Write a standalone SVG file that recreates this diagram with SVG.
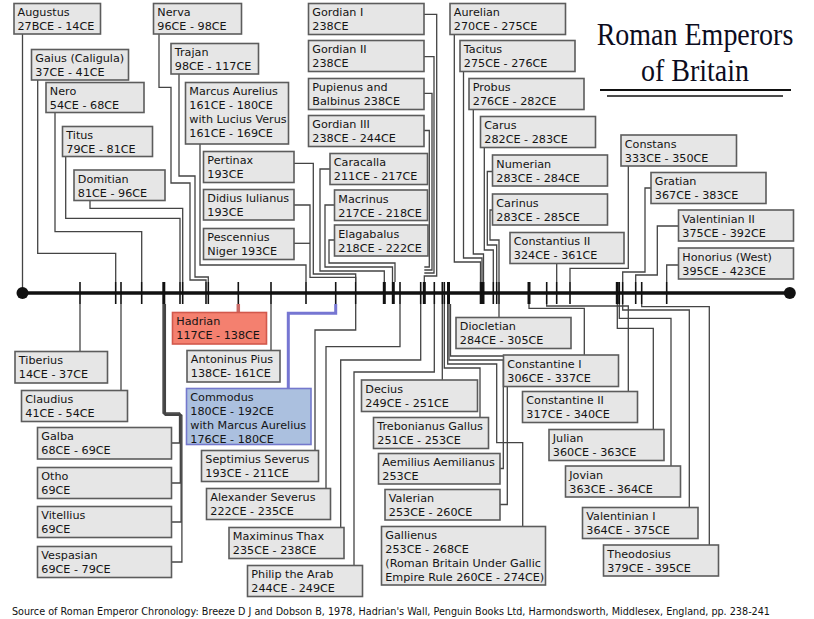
<svg xmlns="http://www.w3.org/2000/svg" width="814" height="619" viewBox="0 0 814 619">
<style>
.b{fill:#e6e6e6;stroke:#5c5c5c;stroke-width:1.6}
.t{font-family:"DejaVu Sans","Liberation Sans",sans-serif;font-size:11.2px;fill:#141414}
.c{fill:none;stroke:#444;stroke-width:1.3}
.k{stroke:#111;stroke-width:1.6}
.kk{stroke:#111;stroke-width:3}
.ttl{font-family:"Liberation Serif",serif;fill:#0c0c1e;font-size:32px}
</style>
<rect width="814" height="619" fill="#fff"/>
<g id="title">
<text class="ttl" transform="translate(695,45) scale(0.875,1)" text-anchor="middle">Roman Emperors</text>
<text class="ttl" transform="translate(695,81) scale(0.875,1)" text-anchor="middle">of Britain</text>
<line x1="600" y1="90" x2="791" y2="90" stroke="#111" stroke-width="2"/>
<line x1="607" y1="96" x2="783" y2="96" stroke="#111" stroke-width="1.3"/>
</g>
<g id="connectors">
<path class="c" d="M22.5,34V293"/>
<path class="c" d="M37.7,80V253.3H115.7V282"/>
<path class="c" d="M55,112.5V231.7H141.7V282"/>
<path class="c" d="M65.7,156.5V218.3H180V282"/>
<path class="c" d="M90,200.5V208.3H182.7V282"/>
<path class="c" d="M159,34V87.3H171V183H190V280H206V282"/>
<path class="c" d="M179,74V176H195V277H208.3V282"/>
<path class="c" d="M200,144V265H306V282"/>
<path class="c" d="M294,163.3H313.3V274H355.7V282"/>
<path class="c" d="M294,205H310V277.3H355.7V282"/>
<path class="c" d="M294,243.3H310"/>
<path class="c" d="M330,169H320V271H384.3V282"/>
<path class="c" d="M334.5,205H325V267H392.5V282"/>
<path class="c" d="M334.5,240H329V263H395V282"/>
<path class="c" d="M424,14.3H436.7V276H424.3V282"/>
<path class="c" d="M424,56.7H434V273H424.3"/>
<path class="c" d="M424,93.3H432V270H424.3"/>
<path class="c" d="M424,130.5H429.3V267H424.3"/>
<path class="c" d="M454.3,34.5V262H480.5V282"/>
<path class="c" d="M463.5,71.5V258H482V282"/>
<path class="c" d="M473.3,109.5V254H483.5V282"/>
<path class="c" d="M484.3,147.5V250H493.3V282"/>
<path class="c" d="M492.5,171.5H487.3V245H496.7V282"/>
<path class="c" d="M492.5,210H490V240H499V282"/>
<path class="c" d="M556.7,263.5V282"/>
<path class="c" d="M628.3,166V268.3H570V282"/>
<path class="c" d="M651,188H645V272H622.7V282"/>
<path class="c" d="M678.5,226H657.3V275H635.7V282"/>
<path class="c" d="M678.5,265H666.7V282"/>
<path class="c" d="M80,304V351.5"/>
<path class="c" d="M121,304V390.5"/>
<path class="c" d="M163,304V413H179.5V443H171.5"/>
<path class="c" d="M163.8,304V413.8H180.3V483H171.5"/>
<path class="c" d="M164.6,304V414.6H181.1V522H171.5"/>
<path class="c" d="M165.4,304V415.4H181.9V562H171.5"/>
<path d="M238.3,304V312.5" fill="none" stroke="#c96a66" stroke-width="3.5"/>
<path class="c" d="M271,304V350.5"/>
<path d="M335.7,304V313.3H288.3V388.5" fill="none" stroke="#7676d2" stroke-width="3"/>
<path class="c" d="M355.7,304V330H315V450.5"/>
<path class="c" d="M400,304V346.7H326V488.5"/>
<path class="c" d="M420.7,304V360H340.7V527.5"/>
<path class="c" d="M434.3,304V372H354V565.5"/>
<path class="c" d="M442.3,304V380"/>
<path class="c" d="M444.3,304V368H480V417.5"/>
<path class="c" d="M447.7,304V364H496.7V442.7H522.7V526.5"/>
<path class="c" d="M449,304V360H503.3V468.5H500"/>
<path class="c" d="M450.5,304V356H507.3V504.5H500"/>
<path class="c" d="M499,304V317.5"/>
<path class="c" d="M529,304V308.3H584.3V355"/>
<path class="c" d="M546.7,304V306H628.3V391.5"/>
<path class="c" d="M617.3,304V328.3H653.3V429.5"/>
<path class="c" d="M619.3,304V318.3H671V466"/>
<path class="c" d="M622.7,304V310H689.3V507.5"/>
<path class="c" d="M641.7,304V306.7H709.3V545"/>
</g>
<g id="timeline">
<line x1="22.5" y1="293" x2="789.8" y2="293" stroke="#111" stroke-width="3.5"/>
<circle cx="22.5" cy="293" r="6" fill="#111"/>
<circle cx="789.8" cy="293" r="6" fill="#111"/>
<g class="k">
<line x1="80" y1="282" x2="80" y2="304"/>
<line x1="115.7" y1="282" x2="115.7" y2="304"/>
<line x1="121" y1="282" x2="121" y2="304"/>
<line x1="141.7" y1="282" x2="141.7" y2="304"/>
<line x1="180" y1="282" x2="180" y2="304"/>
<line x1="182.7" y1="282" x2="182.7" y2="304"/>
<line x1="206" y1="282" x2="206" y2="304"/>
<line x1="208.3" y1="282" x2="208.3" y2="304"/>
<line x1="238.3" y1="282" x2="238.3" y2="304"/>
<line x1="271" y1="282" x2="271" y2="304"/>
<line x1="306" y1="282" x2="306" y2="304"/>
<line x1="335.7" y1="282" x2="335.7" y2="304"/>
<line x1="355.7" y1="282" x2="355.7" y2="304"/>
<line x1="400" y1="282" x2="400" y2="304"/>
<line x1="420.7" y1="282" x2="420.7" y2="304"/>
<line x1="434.3" y1="282" x2="434.3" y2="304"/>
<line x1="442.3" y1="282" x2="442.3" y2="304"/>
<line x1="444.3" y1="282" x2="444.3" y2="304"/>
<line x1="556.7" y1="282" x2="556.7" y2="304"/>
<line x1="546.7" y1="282" x2="546.7" y2="304"/>
<line x1="570" y1="282" x2="570" y2="304"/>
<line x1="619.3" y1="282" x2="619.3" y2="304"/>
<line x1="622.7" y1="282" x2="622.7" y2="304"/>
<line x1="635.7" y1="282" x2="635.7" y2="304"/>
<line x1="641.7" y1="282" x2="641.7" y2="304"/>
<line x1="666.7" y1="282" x2="666.7" y2="304"/>
<line x1="493.3" y1="282" x2="493.3" y2="304"/>
<line x1="496.7" y1="282" x2="496.7" y2="304"/>
<line x1="499" y1="282" x2="499" y2="304"/>
</g>
<g class="kk">
<line x1="163.8" y1="282" x2="163.8" y2="304"/>
<line x1="384.3" y1="282" x2="384.3" y2="304"/>
<line x1="393.3" y1="282" x2="393.3" y2="304"/>
<line x1="424.3" y1="282" x2="424.3" y2="304"/>
<line x1="448.5" y1="282" x2="448.5" y2="304"/>
<line x1="481.2" y1="282" x2="481.2" y2="304"/>
<line x1="483" y1="282" x2="483" y2="304"/>
<line x1="529" y1="282" x2="529" y2="304"/>
<line x1="617.3" y1="282" x2="617.3" y2="304"/>
</g>
</g>
<g id="augustus"><rect class="b" x="14" y="3.5" width="86.5" height="30.5"/><text class="t" x="17.5" y="16.3">Augustus</text><text class="t" x="17.5" y="30.3">27BCE - 14CE</text></g>
<g id="gaius"><rect class="b" x="31.5" y="49.5" width="97" height="30.5"/><text class="t" x="35.3" y="62.3">Gaius (Caligula)</text><text class="t" x="35.3" y="76.3">37CE - 41CE</text></g>
<g id="nero"><rect class="b" x="46" y="82.5" width="98" height="30"/><text class="t" x="49.8" y="95.3">Nero</text><text class="t" x="49.8" y="109.3">54CE - 68CE</text></g>
<g id="titus"><rect class="b" x="62.5" y="126.5" width="90" height="30"/><text class="t" x="66.3" y="139.3">Titus</text><text class="t" x="66.3" y="153.3">79CE - 81CE</text></g>
<g id="domitian"><rect class="b" x="74" y="170" width="91" height="30.5"/><text class="t" x="77.8" y="182.8">Domitian</text><text class="t" x="77.8" y="196.8">81CE - 96CE</text></g>
<g id="nerva"><rect class="b" x="153.5" y="3.5" width="88" height="30.5"/><text class="t" x="157.3" y="16.3">Nerva</text><text class="t" x="157.3" y="30.3">96CE - 98CE</text></g>
<g id="trajan"><rect class="b" x="171" y="43.5" width="87.5" height="30.5"/><text class="t" x="174.8" y="56.3">Trajan</text><text class="t" x="174.8" y="70.3">98CE - 117CE</text></g>
<g id="marcus-aurelius"><rect class="b" x="185.5" y="82.5" width="103" height="61.5"/><text class="t" x="189.3" y="95.3">Marcus Aurelius</text><text class="t" x="189.3" y="109.3">161CE - 180CE</text><text class="t" x="189.3" y="123.3">with Lucius Verus</text><text class="t" x="189.3" y="137.3">161CE - 169CE</text></g>
<g id="pertinax"><rect class="b" x="203.5" y="151.5" width="90.5" height="31"/><text class="t" x="207.3" y="164.3">Pertinax</text><text class="t" x="207.3" y="178.3">193CE</text></g>
<g id="didius"><rect class="b" x="203.5" y="189.5" width="90.5" height="30.5"/><text class="t" x="207.3" y="202.3">Didius Iulianus</text><text class="t" x="207.3" y="216.3">193CE</text></g>
<g id="pescennius"><rect class="b" x="203.5" y="228.5" width="90.5" height="31"/><text class="t" x="207.3" y="241.3">Pescennius</text><text class="t" x="207.3" y="255.3">Niger 193CE</text></g>
<g id="gordian1"><rect class="b" x="308.5" y="3.5" width="115.5" height="31"/><text class="t" x="312.3" y="16.3">Gordian I</text><text class="t" x="312.3" y="30.3">238CE</text></g>
<g id="gordian2"><rect class="b" x="308.5" y="40.5" width="115.5" height="31"/><text class="t" x="312.3" y="53.3">Gordian II</text><text class="t" x="312.3" y="67.3">238CE</text></g>
<g id="pupienus"><rect class="b" x="308.5" y="78.5" width="115.5" height="31"/><text class="t" x="312.3" y="91.3">Pupienus and</text><text class="t" x="312.3" y="105.3">Balbinus 238CE</text></g>
<g id="gordian3"><rect class="b" x="308.5" y="115.5" width="115.5" height="31"/><text class="t" x="312.3" y="128.3">Gordian III</text><text class="t" x="312.3" y="142.3">238CE - 244CE</text></g>
<g id="caracalla"><rect class="b" x="330" y="153.5" width="97.5" height="31"/><text class="t" x="333.8" y="166.3">Caracalla</text><text class="t" x="333.8" y="180.3">211CE - 217CE</text></g>
<g id="macrinus"><rect class="b" x="334.5" y="190" width="93" height="30.5"/><text class="t" x="338.3" y="202.8">Macrinus</text><text class="t" x="338.3" y="216.8">217CE - 218CE</text></g>
<g id="elagabalus"><rect class="b" x="334.5" y="225" width="93.5" height="31"/><text class="t" x="338.3" y="237.8">Elagabalus</text><text class="t" x="338.3" y="251.8">218CE - 222CE</text></g>
<g id="aurelian"><rect class="b" x="450" y="3.5" width="115.5" height="31"/><text class="t" x="453.8" y="16.3">Aurelian</text><text class="t" x="453.8" y="30.3">270CE - 275CE</text></g>
<g id="tacitus"><rect class="b" x="460" y="40.5" width="115" height="31"/><text class="t" x="463.8" y="53.3">Tacitus</text><text class="t" x="463.8" y="67.3">275CE - 276CE</text></g>
<g id="probus"><rect class="b" x="469" y="78.5" width="115" height="31"/><text class="t" x="472.8" y="91.3">Probus</text><text class="t" x="472.8" y="105.3">276CE - 282CE</text></g>
<g id="carus"><rect class="b" x="480.5" y="116.5" width="115" height="31"/><text class="t" x="484.3" y="129.3">Carus</text><text class="t" x="484.3" y="143.3">282CE - 283CE</text></g>
<g id="numerian"><rect class="b" x="492.5" y="155" width="115" height="31"/><text class="t" x="496.3" y="167.8">Numerian</text><text class="t" x="496.3" y="181.8">283CE - 284CE</text></g>
<g id="carinus"><rect class="b" x="492.5" y="194" width="115" height="31"/><text class="t" x="496.3" y="206.8">Carinus</text><text class="t" x="496.3" y="220.8">283CE - 285CE</text></g>
<g id="constantius2"><rect class="b" x="510" y="232.5" width="114" height="31"/><text class="t" x="513.8" y="245.3">Constantius II</text><text class="t" x="513.8" y="259.3">324CE - 361CE</text></g>
<g id="constans"><rect class="b" x="621" y="135" width="115.5" height="31"/><text class="t" x="624.8" y="147.8">Constans</text><text class="t" x="624.8" y="161.8">333CE - 350CE</text></g>
<g id="gratian"><rect class="b" x="651" y="172.5" width="115" height="31"/><text class="t" x="654.8" y="185.3">Gratian</text><text class="t" x="654.8" y="199.3">367CE - 383CE</text></g>
<g id="valentinian2"><rect class="b" x="678.5" y="210" width="115" height="31"/><text class="t" x="682.3" y="222.8">Valentinian II</text><text class="t" x="682.3" y="236.8">375CE - 392CE</text></g>
<g id="honorius"><rect class="b" x="678.5" y="248" width="115" height="31"/><text class="t" x="682.3" y="260.8">Honorius (West)</text><text class="t" x="682.3" y="274.8">395CE - 423CE</text></g>
<g id="tiberius"><rect class="b" x="15" y="351.5" width="92.5" height="31.5"/><text class="t" x="18.8" y="364.3">Tiberius</text><text class="t" x="18.8" y="378.3">14CE - 37CE</text></g>
<g id="claudius"><rect class="b" x="21.5" y="390.5" width="106" height="31"/><text class="t" x="25.3" y="403.3">Claudius</text><text class="t" x="25.3" y="417.3">41CE - 54CE</text></g>
<g id="galba"><rect class="b" x="37.5" y="427.5" width="134" height="31.5"/><text class="t" x="41.3" y="440.3">Galba</text><text class="t" x="41.3" y="454.3">68CE - 69CE</text></g>
<g id="otho"><rect class="b" x="37.5" y="467.5" width="134" height="31"/><text class="t" x="41.3" y="480.3">Otho</text><text class="t" x="41.3" y="494.3">69CE</text></g>
<g id="vitellius"><rect class="b" x="37.5" y="506.5" width="134" height="31"/><text class="t" x="41.3" y="519.3">Vitellius</text><text class="t" x="41.3" y="533.3">69CE</text></g>
<g id="vespasian"><rect class="b" x="37.5" y="546.5" width="134" height="31"/><text class="t" x="41.3" y="559.3">Vespasian</text><text class="t" x="41.3" y="573.3">69CE - 79CE</text></g>
<g id="hadrian"><rect x="172.5" y="312.5" width="94" height="31.5" fill="#f4806f" stroke="#d2584c" stroke-width="1.6"/><text class="t" x="176.3" y="325.3">Hadrian</text><text class="t" x="176.3" y="339.3">117CE - 138CE</text></g>
<g id="antoninus"><rect class="b" x="187" y="350.5" width="93" height="31.5"/><text class="t" x="190.8" y="363.3">Antoninus Pius</text><text class="t" x="190.8" y="377.3">138CE- 161CE</text></g>
<g id="commodus"><rect x="186.5" y="388.5" width="124.5" height="56" fill="#abc0df" stroke="#7478cc" stroke-width="1.6"/><text class="t" x="190.3" y="401.3">Commodus</text><text class="t" x="190.3" y="415.3">180CE - 192CE</text><text class="t" x="190.3" y="429.3">with Marcus Aurelius</text><text class="t" x="190.3" y="443.3">176CE - 180CE</text></g>
<g id="septimius"><rect class="b" x="201.5" y="450.5" width="117" height="31"/><text class="t" x="205.3" y="463.3">Septimius Severus</text><text class="t" x="205.3" y="477.3">193CE - 211CE</text></g>
<g id="alexander"><rect class="b" x="206.5" y="488.5" width="124" height="31"/><text class="t" x="210.3" y="501.3">Alexander Severus</text><text class="t" x="210.3" y="515.3">222CE - 235CE</text></g>
<g id="maximinus"><rect class="b" x="229" y="527.5" width="115" height="31"/><text class="t" x="232.8" y="540.3">Maximinus Thax</text><text class="t" x="232.8" y="554.3">235CE - 238CE</text></g>
<g id="philip"><rect class="b" x="247.5" y="565.5" width="115" height="31"/><text class="t" x="251.3" y="578.3">Philip the Arab</text><text class="t" x="251.3" y="592.3">244CE - 249CE</text></g>
<g id="decius"><rect class="b" x="361.5" y="380" width="116" height="31.5"/><text class="t" x="365.3" y="392.8">Decius</text><text class="t" x="365.3" y="406.8">249CE - 251CE</text></g>
<g id="trebonianus"><rect class="b" x="373.5" y="417.5" width="115" height="31"/><text class="t" x="377.3" y="430.3">Trebonianus Gallus</text><text class="t" x="377.3" y="444.3">251CE - 253CE</text></g>
<g id="aemilius"><rect class="b" x="378.5" y="453.5" width="121.5" height="30.5"/><text class="t" x="382.3" y="466.3">Aemilius Aemilianus</text><text class="t" x="382.3" y="480.3">253CE</text></g>
<g id="valerian"><rect class="b" x="385" y="489.5" width="115" height="30.5"/><text class="t" x="388.8" y="502.3">Valerian</text><text class="t" x="388.8" y="516.3">253CE - 260CE</text></g>
<g id="gallienus"><rect class="b" x="381.5" y="526.5" width="164" height="58.5"/><text class="t" x="385.3" y="539.3">Gallienus</text><text class="t" x="385.3" y="553.3">253CE - 268CE</text><text class="t" x="385.3" y="567.3">(Roman Britain Under Gallic</text><text class="t" x="385.3" y="581.3">Empire Rule 260CE - 274CE)</text></g>
<g id="diocletian"><rect class="b" x="456" y="317.5" width="115" height="31"/><text class="t" x="459.8" y="330.3">Diocletian</text><text class="t" x="459.8" y="344.3">284CE - 305CE</text></g>
<g id="constantine1"><rect class="b" x="503.5" y="355" width="115" height="31.5"/><text class="t" x="507.3" y="367.8">Constantine I</text><text class="t" x="507.3" y="381.8">306CE - 337CE</text></g>
<g id="constantine2"><rect class="b" x="522.5" y="391.5" width="115" height="31"/><text class="t" x="526.3" y="404.3">Constantine II</text><text class="t" x="526.3" y="418.3">317CE - 340CE</text></g>
<g id="julian"><rect class="b" x="549" y="429.5" width="115" height="31"/><text class="t" x="552.8" y="442.3">Julian</text><text class="t" x="552.8" y="456.3">360CE - 363CE</text></g>
<g id="jovian"><rect class="b" x="565.5" y="466" width="115" height="31"/><text class="t" x="569.3" y="478.8">Jovian</text><text class="t" x="569.3" y="492.8">363CE - 364CE</text></g>
<g id="valentinian1"><rect class="b" x="582.5" y="507.5" width="115.5" height="31"/><text class="t" x="586.3" y="520.3">Valentinian I</text><text class="t" x="586.3" y="534.3">364CE - 375CE</text></g>
<g id="theodosius"><rect class="b" x="603.5" y="545" width="115" height="31"/><text class="t" x="607.3" y="557.8">Theodosius</text><text class="t" x="607.3" y="571.8">379CE - 395CE</text></g>
<text x="12" y="614.5" font-family="DejaVu Sans,sans-serif" font-size="10" fill="#111" textLength="758" lengthAdjust="spacingAndGlyphs">Source of Roman Emperor Chronology: Breeze D J and Dobson B, 1978, Hadrian's Wall, Penguin Books Ltd, Harmondsworth, Middlesex, England, pp. 238-241</text>
</svg>
